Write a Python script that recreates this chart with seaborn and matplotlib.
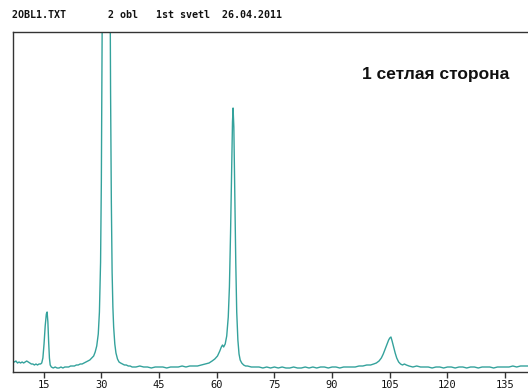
import matplotlib
matplotlib.use("Agg")
import matplotlib.pyplot as plt
import seaborn as sns
import pandas as pd

two_theta = [
    7.0, 7.4, 7.8, 8.2, 8.6, 9.0, 9.4, 9.8, 10.2, 10.6, 11.0, 11.4, 11.8, 12.2, 12.6,
    13.0, 13.4, 13.8, 14.2, 14.5,
    14.8, 15.1, 15.4, 15.7, 15.9, 16.1, 16.3, 16.5, 16.7, 17.0,
    17.5, 18.0, 18.5, 19.0, 19.5, 20.0, 20.5, 21.0, 21.5, 22.0, 22.5, 23.0, 23.5,
    24.0, 24.5, 25.0, 25.5, 26.0, 26.5, 27.0, 27.5, 28.0, 28.4, 28.8, 29.2, 29.5,
    29.8, 30.0, 30.2, 30.4, 30.7, 31.0, 31.2, 31.4, 31.7, 32.0, 32.2, 32.4, 32.6,
    32.8, 33.0, 33.2, 33.5, 33.8, 34.2, 34.6, 35.0, 35.5, 36.0, 36.5, 37.0, 37.5,
    38.0, 39.0, 40.0, 41.0, 42.0, 43.0, 44.0, 45.0, 46.0, 47.0, 48.0, 49.0, 50.0,
    51.0, 52.0, 53.0, 54.0, 55.0, 56.0, 57.0, 58.0, 58.8, 59.5, 60.2, 60.8, 61.2,
    61.5, 61.8, 62.2, 62.6, 63.0, 63.3, 63.6, 63.9, 64.1, 64.25, 64.45, 64.7, 64.95,
    65.2, 65.5, 65.8, 66.1, 66.5, 67.0, 67.5, 68.0, 69.0, 70.0, 71.0, 72.0, 73.0,
    74.0, 75.0, 76.0, 77.0, 78.0, 79.0, 80.0, 81.0, 82.0, 83.0, 84.0, 85.0, 86.0,
    87.0, 88.0, 89.0, 90.0, 91.0, 92.0, 93.0, 94.0, 95.0, 96.0, 97.0, 98.0, 99.0,
    100.0, 100.8, 101.5, 102.2, 102.8, 103.3, 103.8, 104.3, 104.7, 105.0, 105.3,
    105.6, 106.0, 106.4, 106.8, 107.3, 107.8, 108.3, 108.8, 109.3, 110.0, 111.0,
    112.0, 113.0, 114.0, 115.0, 116.0, 117.0, 118.0, 119.0, 120.0, 121.0, 122.0,
    123.0, 124.0, 125.0, 126.0, 127.0, 128.0, 129.0, 130.0, 131.0, 132.0, 133.0,
    134.0, 135.0, 136.0, 137.0, 138.0, 139.0, 140.0, 141.0,
]
intensity = [
    11, 10, 11, 9, 10, 9, 10, 9, 10, 11, 10, 9, 8, 8, 7,
    8, 7, 8, 8, 9,
    14, 28, 46, 58, 60, 50, 30, 14, 7, 5,
    4, 5, 4, 4, 5, 4, 5, 5, 5, 6, 6, 6, 7,
    7, 8, 8, 9, 10, 11, 12, 14, 16, 20, 26, 38, 60,
    110, 190, 320, 520, 900, 1300, 1450, 1400, 1100, 700, 450, 280, 170,
    100, 65, 45, 28, 19, 13, 10, 9, 8, 7, 7, 6, 6,
    5, 5, 6, 5, 5, 4, 5, 5, 5, 4, 5, 5, 5,
    6, 5, 6, 6, 6, 7, 8, 9, 11, 13, 16, 21, 25,
    27, 25, 28, 36, 55, 85, 140, 210, 250, 264, 245, 180, 110,
    60, 32, 18, 12, 9, 7, 6, 6, 5, 5, 5, 4, 5,
    4, 5, 4, 5, 4, 4, 5, 4, 4, 5, 4, 5, 4,
    5, 5, 4, 5, 5, 4, 5, 5, 5, 5, 6, 6, 7,
    7, 8, 9, 11, 14, 18, 23, 28, 32, 34, 35,
    31, 25, 19, 14, 10, 8, 7, 8, 7, 6, 5,
    6, 5, 5, 5, 4, 5, 5, 4, 5, 5, 4,
    5, 5, 4, 5, 5, 4, 5, 5, 5, 4, 5,
    5, 5, 5, 6, 5, 6, 6, 6,
]
x_ticks = [15, 30, 45, 60, 75, 90, 105, 120, 135]
header = "2OBL1.TXT       2 obl   1st svetl  26.04.2011"
annotation = "1 сетлая сторона"

df = pd.DataFrame({"two_theta": two_theta, "intensity": intensity})

sns.set_style("white")
W, H = 528, 389
fig = plt.figure(figsize=(W / 100, H / 100), dpi=100)
ax = fig.add_axes([12.5 / W, 17 / H, 1 - 12.5 / W, 340 / H])

sns.lineplot(data=df, x="two_theta", y="intensity", ax=ax, color="#34a29c",
             lw=1.0, estimator=None, sort=False)

ax.set_xlim(6.9, 6.9 + 515.5 / 3.846)
ax.set_ylim(0, 340)
ax.set_xlabel("")
ax.set_ylabel("")
ax.set_yticks([])
ax.set_xticks(x_ticks)
ax.set_xticklabels([str(t) for t in x_ticks], family="DejaVu Sans Mono", fontsize=7.5)
ax.tick_params(axis="x", bottom=True, direction="out", length=4, width=1,
               color="#333333", pad=2, labelcolor="#111111")

for side in ["left", "top", "bottom"]:
    ax.spines[side].set_visible(True)
    ax.spines[side].set_color("#333333")
    ax.spines[side].set_linewidth(1.0)
ax.spines["right"].set_visible(False)

fig.text(12 / W, 1 - 15 / H, header, family="DejaVu Sans Mono", weight="bold",
         fontsize=7.2, va="center", ha="left", color="#111111")
fig.text(362 / W, 1 - 74 / H, annotation, family="Liberation Sans", weight="bold",
         fontsize=12.5, va="center", ha="left", color="#111111")

fig.savefig("out.png", dpi=100, facecolor="white")
